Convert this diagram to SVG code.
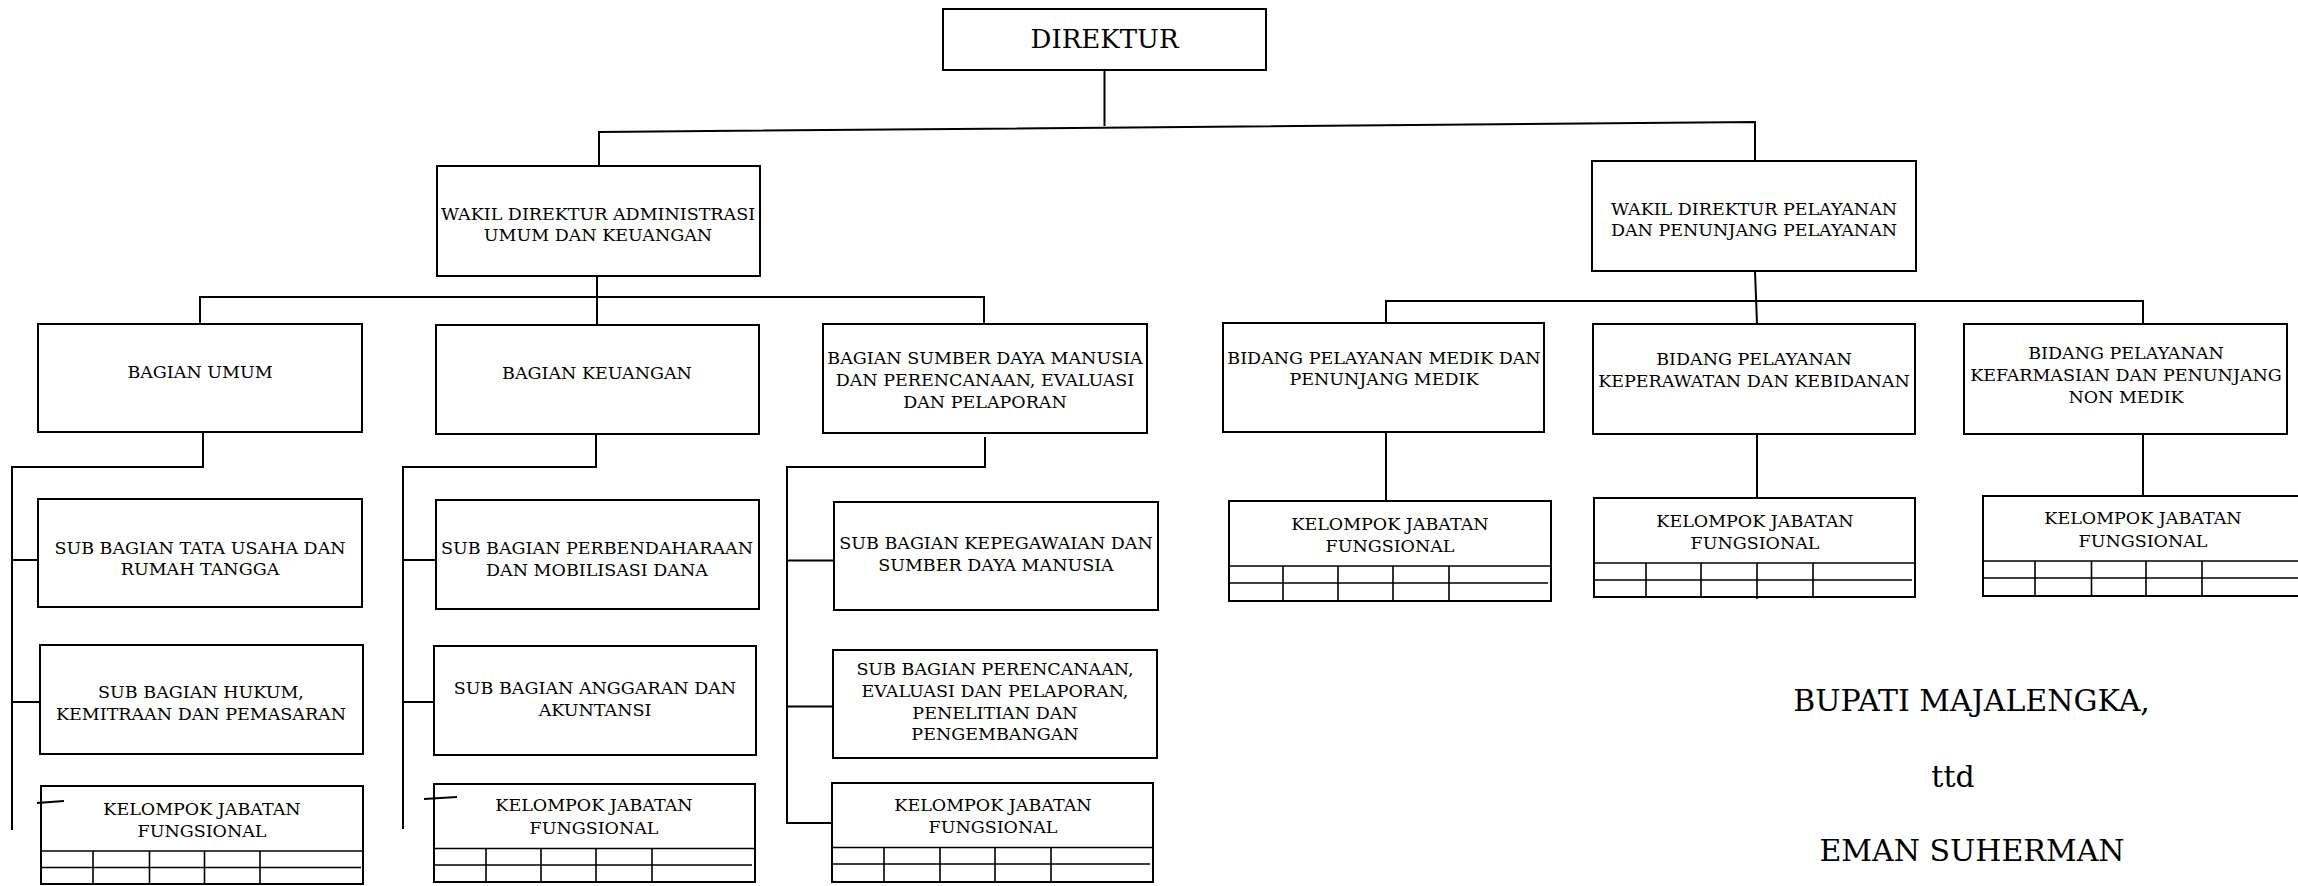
<svg xmlns="http://www.w3.org/2000/svg" width="2298" height="886" viewBox="0 0 2298 886">
<style>
.box{fill:#fff;stroke:#000;stroke-width:2}
.ln{fill:none;stroke:#000;stroke-width:2}
.tl{fill:none;stroke:#000;stroke-width:1.6}
.t{font-family:"DejaVu Serif","Liberation Serif",serif;font-size:17.5px;text-anchor:middle;fill:#000}
.big{font-family:"DejaVu Serif","Liberation Serif",serif;font-size:30px;text-anchor:middle;fill:#000}
</style>
<rect width="2298" height="886" fill="#fff"/>
<g id="direktur">
<rect class="box" x="943" y="9" width="323" height="61"/>
<text x="1104.5" y="48" style="font-family:'DejaVu Serif','Liberation Serif',serif;font-size:26px;text-anchor:middle">DIREKTUR</text>
</g>
<g id="wadir-admin">
<rect class="box" x="437" y="166" width="323" height="110"/>
<text class="t" x="598" y="220">WAKIL DIREKTUR ADMINISTRASI</text>
<text class="t" x="598" y="241">UMUM DAN KEUANGAN</text>
</g>
<g id="wadir-pelayanan">
<rect class="box" x="1592" y="161" width="324" height="110"/>
<text class="t" x="1754" y="215">WAKIL DIREKTUR PELAYANAN</text>
<text class="t" x="1754" y="236">DAN PENUNJANG PELAYANAN</text>
</g>
<g id="bagian-umum">
<rect class="box" x="38" y="324" width="324" height="108"/>
<text class="t" x="200" y="378">BAGIAN UMUM</text>
</g>
<g id="bagian-keuangan">
<rect class="box" x="436" y="325" width="323" height="109"/>
<text class="t" x="597" y="379">BAGIAN KEUANGAN</text>
</g>
<g id="bagian-sdm">
<rect class="box" x="823" y="324" width="324" height="109"/>
<text class="t" x="985" y="364">BAGIAN SUMBER DAYA MANUSIA</text>
<text class="t" x="985" y="386">DAN PERENCANAAN, EVALUASI</text>
<text class="t" x="985" y="408">DAN PELAPORAN</text>
</g>
<g id="bidang-medik">
<rect class="box" x="1223" y="323" width="321" height="109"/>
<text class="t" x="1384" y="364">BIDANG PELAYANAN MEDIK DAN</text>
<text class="t" x="1384" y="385">PENUNJANG MEDIK</text>
</g>
<g id="bidang-keperawatan">
<rect class="box" x="1593" y="324" width="322" height="110"/>
<text class="t" x="1754" y="365">BIDANG PELAYANAN</text>
<text class="t" x="1754" y="387">KEPERAWATAN DAN KEBIDANAN</text>
</g>
<g id="bidang-kefarmasian">
<rect class="box" x="1964" y="324" width="323" height="110"/>
<text class="t" x="2126" y="359">BIDANG PELAYANAN</text>
<text class="t" x="2126" y="381">KEFARMASIAN DAN PENUNJANG</text>
<text class="t" x="2126" y="403">NON MEDIK</text>
</g>
<g id="sub-tata-usaha">
<rect class="box" x="38" y="499" width="324" height="108"/>
<text class="t" x="200" y="554">SUB BAGIAN TATA USAHA DAN</text>
<text class="t" x="200" y="575">RUMAH TANGGA</text>
</g>
<g id="sub-hukum">
<rect class="box" x="40" y="645" width="323" height="109"/>
<text class="t" x="201" y="698">SUB BAGIAN HUKUM,</text>
<text class="t" x="201" y="720">KEMITRAAN DAN PEMASARAN</text>
</g>
<g id="kjf-umum">
<rect class="box" x="41" y="786" width="322" height="98"/>
<text class="t" x="202" y="815">KELOMPOK JABATAN</text>
<text class="t" x="202" y="837">FUNGSIONAL</text>
<path class="tl" d="M41 851 H363 M41 867.5 H361 M93 851 V884 M149.5 851 V884 M204.5 851 V884 M260 851 V884"/>
</g>
<g id="sub-perbendaharaan">
<rect class="box" x="436" y="500" width="323" height="109"/>
<text class="t" x="597" y="554">SUB BAGIAN PERBENDAHARAAN</text>
<text class="t" x="597" y="576">DAN MOBILISASI DANA</text>
</g>
<g id="sub-anggaran">
<rect class="box" x="434" y="646" width="322" height="109"/>
<text class="t" x="595" y="694">SUB BAGIAN ANGGARAN DAN</text>
<text class="t" x="595" y="716">AKUNTANSI</text>
</g>
<g id="kjf-keuangan">
<rect class="box" x="434" y="784" width="321" height="98"/>
<text class="t" x="594" y="811">KELOMPOK JABATAN</text>
<text class="t" x="594" y="834">FUNGSIONAL</text>
<path class="tl" d="M434 848.5 H755 M434 865 H752 M486 848.5 V882 M541 848.5 V882 M596 848.5 V882 M652 848.5 V882"/>
</g>
<g id="sub-kepegawaian">
<rect class="box" x="834" y="502" width="324" height="108"/>
<text class="t" x="996" y="548.5">SUB BAGIAN KEPEGAWAIAN DAN</text>
<text class="t" x="996" y="571">SUMBER DAYA MANUSIA</text>
</g>
<g id="sub-perencanaan">
<rect class="box" x="833" y="650" width="324" height="108"/>
<text class="t" x="995" y="675">SUB BAGIAN PERENCANAAN,</text>
<text class="t" x="995" y="697">EVALUASI DAN PELAPORAN,</text>
<text class="t" x="995" y="718.5">PENELITIAN DAN</text>
<text class="t" x="995" y="740">PENGEMBANGAN</text>
</g>
<g id="kjf-sdm">
<rect class="box" x="832" y="783" width="321" height="99"/>
<text class="t" x="993" y="811">KELOMPOK JABATAN</text>
<text class="t" x="993" y="832.5">FUNGSIONAL</text>
<path class="tl" d="M832 847.5 H1153 M832 864 H1150 M884 847.5 V882 M940 847.5 V882 M995 847.5 V882 M1051 847.5 V882"/>
</g>
<g id="kjf-medik">
<rect class="box" x="1229" y="501" width="322" height="100"/>
<text class="t" x="1390" y="530">KELOMPOK JABATAN</text>
<text class="t" x="1390" y="552">FUNGSIONAL</text>
<path class="tl" d="M1229 566 H1551 M1229 583 H1548 M1283 566 V601 M1338 566 V601 M1393 566 V602 M1449 566 V601"/>
</g>
<g id="kjf-keperawatan">
<rect class="box" x="1594" y="498" width="321" height="99"/>
<text class="t" x="1755" y="527">KELOMPOK JABATAN</text>
<text class="t" x="1755" y="549">FUNGSIONAL</text>
<path class="tl" d="M1594 563 H1915 M1594 580 H1912 M1646 563 V597 M1701 563 V597 M1757 563 V599 M1813 563 V597"/>
</g>
<g id="kjf-kefarmasian">
<rect class="box" x="1983" y="496" width="340" height="100"/>
<text class="t" x="2143" y="524">KELOMPOK JABATAN</text>
<text class="t" x="2143" y="547">FUNGSIONAL</text>
<path class="tl" d="M1983 561 H2298 M1983 578 H2298 M2035 561 V596 M2091.5 561 V596 M2146 561 V596 M2202 561 V596"/>
</g>
<g id="pengesahan">
<text class="big" x="1971.5" y="711">BUPATI MAJALENGKA,</text>
<text class="big" x="1953" y="787">ttd</text>
<text class="big" x="1972" y="861">EMAN SUHERMAN</text>
</g>
<g id="connectors">
<path class="ln" d="M1104.5 70 V126"/>
<path class="ln" d="M599 166 V132 L1755 122 V161"/>
<path class="ln" d="M597 276 V325"/>
<path class="ln" d="M200 324 V297 H984 V324"/>
<path class="ln" d="M1755 271 L1757 324"/>
<path class="ln" d="M1386 323 V301 H2143 V324"/>
<path class="ln" d="M203 432 V467 H12 V830"/>
<path class="ln" d="M12 560 H38 M12 702 H40 M37 803 L64 801"/>
<path class="ln" d="M596 434 V467 H403 V829"/>
<path class="ln" d="M403 560 H436 M403 702 H434 M424 799 L457 797"/>
<path class="ln" d="M985 437 V467 H787 V824"/>
<path class="ln" d="M787 560.5 H834 M787 706.5 H833 M787 823 H832"/>
<path class="ln" d="M1386 432 V501 M1757 434 V498 M2143 434 V496"/>
</g>
</svg>
